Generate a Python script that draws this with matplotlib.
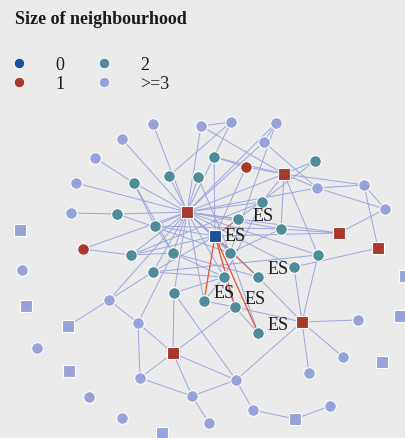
import matplotlib
matplotlib.use("Agg")
import matplotlib.pyplot as plt
from matplotlib.lines import Line2D

plt.rcParams['font.family'] = ['Liberation Serif', 'DejaVu Serif']

# node layout (pixel-like coordinates of the layout, y grows downwards)
names = ['L1', 'L2', 'L3', 'L4', 'L5', 'L6', 'L7', 'L8', 'L9', 'L10', 'L11', 'L12', 'L13', 'L14',
         'L15', 'L16', 'L17', 'L18', 'L19', 'L20', 'L21', 'L22', 'L23', 'L24', 'L25', 'L26', 'L27',
         'S1', 'S2', 'S3', 'S4', 'S5', 'S6', 'S7', 'S8', 'S9',
         'T1', 'T2', 'T3', 'T4', 'T5', 'T6', 'T7', 'T8', 'T9', 'T10', 'T11', 'T12', 'T13', 'T14',
         'T15', 'T16', 'T17', 'T18', 'T19', 'T20', 'T21', 'T22',
         'R1', 'R2', 'RS1', 'RS2', 'RS3', 'RS4', 'RS5', 'RS6', 'B']
node_x = [153, 201, 231, 276, 122, 264, 95, 76, 71, 22, 317, 364, 385, 109,
          138, 37, 140, 89, 122, 192, 236, 253, 209, 330, 309, 343, 358,
          20, 26, 68, 69, 162, 295, 382, 400, 405,
          134, 169, 198, 214, 315, 117, 155, 262, 238, 281, 131, 173, 230, 318,
          153, 224, 258, 294, 174, 204, 235, 258,
          246, 83, 187, 284, 339, 378, 302, 173, 215]
node_y = [125, 127, 123, 124, 140, 143, 159, 184, 214, 271, 189, 186, 210, 301,
          324, 349, 379, 398, 419, 397, 381, 411, 424, 407, 374, 358, 321,
          231, 307, 327, 372, 434, 420, 363, 317, 277,
          184, 177, 178, 158, 162, 215, 227, 203, 220, 230, 256, 254, 254, 256,
          273, 278, 278, 268, 294, 302, 308, 334,
          168, 250, 213, 175, 234, 249, 323, 354, 237]
node_grp = [3] * 27 + [3] * 9 + [2] * 22 + [1, 1, 1, 1, 1, 1, 1, 1, 0]
node_shape = ['o'] * 27 + ['s'] * 9 + ['o'] * 22 + ['o', 'o', 's', 's', 's', 's', 's', 's', 's']

es_nodes = ['B', 'T9', 'T17', 'T20', 'T21', 'T22']

hub_links = ['L1', 'L2', 'L5', 'L8', 'L6', 'L4', 'T1', 'T2', 'T3', 'T4', 'T6', 'T7', 'T8', 'T9',
             'T10', 'T11', 'T12', 'T13', 'T15', 'T16', 'T17', 'T19', 'T20', 'R2', 'B', 'RS2',
             'RS3', 'L11', 'T14', 'T18', 'L14']
edges = [('RS1', n) for n in hub_links] + [
    ('L7', 'T1'), ('L9', 'T6'), ('R2', 'T11'), ('T11', 'B'), ('T11', 'T12'), ('T7', 'T12'),
    ('T1', 'T7'), ('L2', 'L3'), ('L2', 'RS2'), ('L3', 'T4'), ('L4', 'L6'), ('L6', 'L11'),
    ('T4', 'R1'), ('T4', 'RS2'), ('T4', 'B'), ('R1', 'RS2'), ('R1', 'B'), ('T3', 'T13'),
    ('L3', 'T2'), ('L4', 'T13'),
    ('RS2', 'T5'), ('RS2', 'L11'), ('RS2', 'L12'), ('RS2', 'T8'), ('RS2', 'T10'), ('RS2', 'T14'),
    ('T5', 'T9'), ('L11', 'L12'), ('L11', 'L13'), ('L12', 'L13'), ('L12', 'RS4'), ('L13', 'RS3'),
    ('RS3', 'T10'), ('RS3', 'B'), ('RS4', 'T18'), ('T14', 'RS5'), ('T18', 'RS5'), ('T17', 'RS5'),
    ('T21', 'RS5'), ('RS5', 'L27'), ('RS5', 'L26'), ('RS5', 'L25'), ('RS5', 'L21'), ('T10', 'T13'),
    ('T8', 'T11'), ('T14', 'T15'),
    ('L14', 'S3'), ('L14', 'L15'), ('L14', 'T15'), ('L15', 'RS6'), ('L15', 'L17'), ('L15', 'T12'),
    ('RS6', 'T19'), ('RS6', 'L17'), ('RS6', 'L20'), ('RS6', 'T21'), ('RS6', 'L21'), ('L17', 'L20'),
    ('L20', 'L21'), ('L20', 'L23'), ('L21', 'L22'), ('L22', 'S6'), ('S6', 'L24'), ('L21', 'T19'),
    ('T15', 'T16'), ('T12', 'T16'), ('T19', 'T16'), ('T15', 'B'), ('T16', 'T21'), ('T20', 'T21'),
    ('T21', 'T22'), ('T16', 'T20'), ('T7', 'B'), ('T12', 'T17'), ('T13', 'T22'), ('T8', 'T16'),
    ('T6', 'T13'), ('T1', 'T12'), ('T7', 'T10')]
red_edges = [('B', 'T20'), ('B', 'T21'), ('B', 'T22')]
dim_red_edges = [('B', 'T9'), ('B', 'T17')]

grp_labels = ['0', '1', '2', '>=3']
grp_colors = ['#1c4f9e', '#a8392b', '#4e8c99', '#97a2da']
bg = '#ebebeb'

pos = {n: (x, y) for n, x, y in zip(names, node_x, node_y)}

fig = plt.figure(figsize=(4.06, 4.39), dpi=100, facecolor=bg)
ax = fig.add_axes([0, 0, 1, 1])
ax.set_facecolor(bg)
ax.set_xlim(0, 406)
ax.set_ylim(439, 0)
ax.axis('off')

for a, b in edges:
    ax.plot([pos[a][0], pos[b][0]], [pos[a][1], pos[b][1]], color='#9aa5de', lw=0.7, zorder=1)
for a, b in dim_red_edges:
    ax.plot([pos[a][0], pos[b][0]], [pos[a][1], pos[b][1]], color='#c06a66', lw=0.8, zorder=1.5)
for a, b in red_edges:
    ax.plot([pos[a][0], pos[b][0]], [pos[a][1], pos[b][1]], color='#e8502f', lw=0.9, zorder=1.5)

for n, x, y, g, s in zip(names, node_x, node_y, node_grp, node_shape):
    ax.plot(x, y, marker=s, ms=8.6 if s == 's' else 8.4, color=grp_colors[g],
            mec='white', mew=0.8, zorder=3, ls='none')

# label offsets in points (right of node, slightly raised)
for n in es_nodes:
    if n == 'B':
        off = (6.5, 0.7)
    elif n == 'T9':
        off = (10.5, 2.2)
    else:
        off = (6.5, 6.0)
    ax.annotate('ES', pos[n], xytext=off, textcoords='offset points',
                fontsize=13, color='#1a1a1a', ha='left', va='center', zorder=4)

fig.text(15 / 406, 1 - 20 / 439, 'Size of neighbourhood', fontsize=13, fontweight='bold',
         ha='left', va='center', color='#1a1a1a')

handles = [Line2D([], [], marker='o', ls='none', color=c, ms=7.5, mec='white', mew=0.6)
           for c in grp_colors]
fig.legend(handles, grp_labels, loc='upper left', bbox_to_anchor=(11 / 406, 1 - 57 / 439),
           ncol=2, frameon=False, fontsize=13, handlelength=0.9, handletextpad=1.55,
           columnspacing=1.75, labelspacing=0.12, borderpad=0, borderaxespad=0,
           labelcolor='#1a1a1a')

fig.savefig('out.png', dpi=100, facecolor=bg)
